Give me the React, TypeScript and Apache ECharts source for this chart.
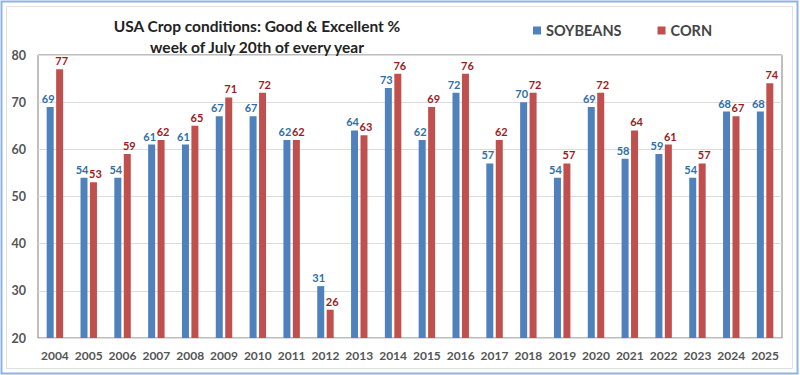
import React, { useEffect, useRef } from "react";
import * as echarts from "echarts";

const years = ["2004","2005","2006","2007","2008","2009","2010","2011","2012","2013","2014","2015","2016","2017","2018","2019","2020","2021","2022","2023","2024","2025"];
const soybeans = [69,54,54,61,61,67,67,62,31,64,73,62,72,57,70,54,69,58,59,54,68,68];
const corn = [77,53,59,62,65,71,72,62,26,63,76,69,76,62,72,57,72,64,61,57,67,74];
const yTicks = { min: 20, max: 80, interval: 10 };

const FONT = "Lato, 'Liberation Sans', sans-serif";

export default function App() {
  const ref = useRef<HTMLDivElement>(null);
  useEffect(() => {
    document.body.style.margin = "0";
    const chart = echarts.init(ref.current!, undefined, { renderer: "svg" });
    chart.setOption({
      animation: false,
      backgroundColor: "#ffffff",
      title: {
        text: "USA Crop conditions: Good & Excellent %\nweek of July 20th of every year",
        left: 252,
        top: 10,
        textAlign: "center",
        textStyle: { fontFamily: FONT, fontSize: 15.5, fontWeight: "bold", color: "#222", lineHeight: 21 },
      },
      legend: {
        left: 528,
        top: 18,
        itemWidth: 8,
        itemHeight: 8,
        itemGap: 36,
        icon: "rect",
        textStyle: { fontFamily: FONT, fontSize: 14.5, fontWeight: "bold", color: "#444" },
        data: ["SOYBEANS", "CORN"],
      },
      grid: {
        left: 38, right: 18, top: 55, bottom: 37,
        show: true, borderColor: "#7f7f7f", borderWidth: 1,
      },
      xAxis: {
        type: "category",
        data: years,
        axisLine: { show: false },
        axisTick: { show: false },
        axisLabel: { interval: 0, fontFamily: FONT, fontSize: 12, fontWeight: "bold", color: "#555", margin: 11 },
      },
      yAxis: {
        type: "value",
        min: yTicks.min, max: yTicks.max, interval: yTicks.interval,
        axisLine: { show: false },
        axisTick: { show: false },
        splitLine: { lineStyle: { color: "#dcdcdc" } },
        axisLabel: { fontFamily: FONT, fontSize: 12.5, fontWeight: "bold", color: "#555", margin: 12 },
      },
      graphic: [
        { type: "rect", shape: { x: 1.5, y: 1.5, width: 796, height: 372 }, style: { fill: "none", stroke: "#8eb4e3", lineWidth: 2 }, silent: true },
        { type: "rect", shape: { x: 6.5, y: 6.5, width: 786, height: 362 }, style: { fill: "none", stroke: "#e0e0e0", lineWidth: 1 }, silent: true },
      ],
      series: [
        {
          name: "SOYBEANS",
          type: "bar",
          data: soybeans,
          barWidth: 7,
          barGap: "35%",
          itemStyle: { color: "#4f81bd" },
          label: { show: true, position: "top", distance: 3, offset: [-2, 0], fontFamily: FONT, fontSize: 11, fontWeight: "bold", color: "#2e6fa8" },
        },
        {
          name: "CORN",
          type: "bar",
          data: corn,
          barWidth: 7,
          itemStyle: { color: "#c0504d" },
          label: { show: true, position: "top", distance: 3, offset: [2, 0], fontFamily: FONT, fontSize: 11, fontWeight: "bold", color: "#9b1c1c" },
        },
      ],
    });
    return () => chart.dispose();
  }, []);
  return <div ref={ref} style={{ width: 800, height: 375 }} />;
}
